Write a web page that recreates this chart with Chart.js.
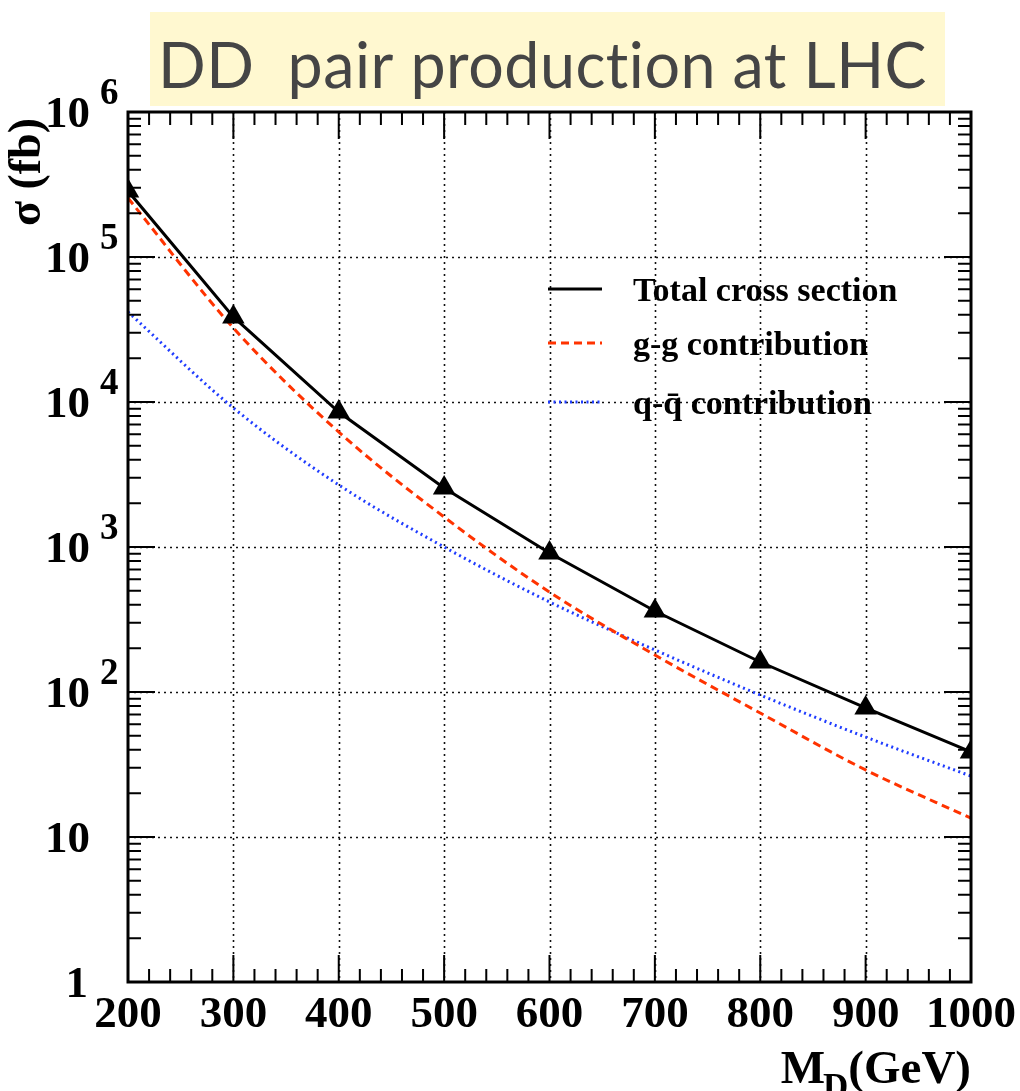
<!DOCTYPE html>
<html>
<head>
<meta charset="utf-8">
<script src="https://cdn.jsdelivr.net/npm/chart.js@4.4.1/dist/chart.umd.min.js"></script>
<style>
  html, body { margin: 0; padding: 0; background: #fff; }
  #wrap { width: 1020px; height: 1091px; }
</style>
</head>
<body>
<div id="wrap"><canvas id="xsecChart" width="1020" height="1091"></canvas></div>
<script>
// --- data (sigma in fb vs M_D in GeV) ---
const massPoints = [200, 300, 400, 500, 600, 700, 800, 900, 1000];
const sigmaTotal = [2.85e5, 3.86e4, 8.53e3, 2.55e3, 909, 362, 161, 77.6, 38.6];
const sigmaGG = [2.55e5, 3.24e4, 6.21e3, 1.61e3, 489, 180, 71.6, 29.0, 13.5];
const sigmaQQ = [4.18e4, 9.1e3, 2.68e3, 1.0e3, 418, 195, 95.3, 48.9, 26.3];

const xTickValues = [200, 300, 400, 500, 600, 700, 800, 900, 1000];
const xTickLabels = ['200', '300', '400', '500', '600', '700', '800', '900', '1000'];
const yTickExponents = [0, 1, 2, 3, 4, 5, 6];

const titleText = 'DD  pair production at LHC';
const serif = '"Liberation Serif", "Times New Roman", serif';

function toPoints(ys) {
    return massPoints.map((m, i) => ({ x: m, y: ys[i] }));
}

// ROOT-like frame, ticks, labels and legend drawn on top of Chart.js scales
const rootFrame = {
    id: 'rootFrame',
    beforeDraw(chart) {
        const ctx = chart.ctx;
        ctx.save();
        ctx.fillStyle = '#fff';
        ctx.fillRect(0, 0, chart.width, chart.height);

        // title banner
        ctx.fillStyle = '#fff8d0';
        ctx.fillRect(150, 12, 795, 94);
        ctx.fillStyle = '#454545';
        ctx.font = '64px Lato';
        ctx.letterSpacing = '0.5px'; // keeps "ti" from ligating
        ctx.textBaseline = 'alphabetic';
        const w = ctx.measureText(titleText).width;
        ctx.translate(158, 88);
        ctx.scale(769 / w, 1);
        ctx.fillText(titleText, 0, 0);
        ctx.restore();
    },
    beforeDatasetsDraw(chart) {
        const { ctx, chartArea: a, scales: { x, y } } = chart;
        ctx.save();
        ctx.strokeStyle = '#111';
        ctx.lineWidth = 1.6;
        ctx.setLineDash([2, 4]);
        ctx.beginPath();
        xTickValues.slice(1, -1).forEach(v => {
            const px = Math.round(x.getPixelForValue(v)) + 0.5;
            ctx.moveTo(px, a.top);
            ctx.lineTo(px, a.bottom);
        });
        yTickExponents.slice(1, -1).forEach(e => {
            const py = Math.round(y.getPixelForValue(Math.pow(10, e))) + 0.5;
            ctx.moveTo(a.left, py);
            ctx.lineTo(a.right, py);
        });
        ctx.stroke();
        ctx.restore();
    },
    afterDatasetsDraw(chart) {
        const { ctx, chartArea: a, scales: { x, y } } = chart;
        ctx.save();

        // ticks on all four sides
        ctx.strokeStyle = '#000';
        ctx.lineWidth = 2;
        ctx.beginPath();
        for (let v = 200; v <= 1000; v += 20) {
            const len = v % 100 === 0 ? 27 : 13;
            const px = x.getPixelForValue(v);
            ctx.moveTo(px, a.bottom);
            ctx.lineTo(px, a.bottom - len);
            ctx.moveTo(px, a.top);
            ctx.lineTo(px, a.top + len);
        }
        for (let e = 0; e <= 5; e++) {
            for (let m = 1; m <= 9; m++) {
                const len = m === 1 ? 27 : 13;
                const py = y.getPixelForValue(m * Math.pow(10, e));
                ctx.moveTo(a.left, py);
                ctx.lineTo(a.left + len, py);
                ctx.moveTo(a.right, py);
                ctx.lineTo(a.right - len, py);
            }
        }
        ctx.stroke();

        // frame
        ctx.lineWidth = 3;
        ctx.strokeRect(a.left, a.top, a.right - a.left, a.bottom - a.top);

        // x tick labels
        ctx.fillStyle = '#000';
        ctx.font = 'bold 45px ' + serif;
        ctx.textAlign = 'center';
        ctx.textBaseline = 'alphabetic';
        xTickValues.forEach((v, i) => {
            ctx.fillText(xTickLabels[i], x.getPixelForValue(v), 1027);
        });

        // y tick labels: 1, 10, 10^n
        yTickExponents.forEach(e => {
            const py = y.getPixelForValue(Math.pow(10, e));
            ctx.font = 'bold 45px ' + serif;
            ctx.textAlign = 'right';
            if (e === 0) {
                ctx.fillText('1', 88, py + 15);
            } else {
                ctx.fillText('10', 90, py + 15);
                if (e > 1) {
                    ctx.font = 'bold 37px ' + serif;
                    ctx.textAlign = 'left';
                    ctx.fillText(String(e), 100, py - 8);
                }
            }
        });

        // x axis title M_D(GeV), right aligned
        ctx.textAlign = 'left';
        ctx.font = 'bold 47px ' + serif;
        const wM = ctx.measureText('M').width;
        const wG = ctx.measureText('(GeV)').width;
        ctx.font = 'bold 35px ' + serif;
        const wD = ctx.measureText('D').width;
        let xs = 971 - wG - wD - wM + 2;
        ctx.font = 'bold 47px ' + serif;
        ctx.fillText('M', xs, 1083);
        ctx.font = 'bold 35px ' + serif;
        ctx.fillText('D', xs + wM - 2, 1098);
        ctx.font = 'bold 47px ' + serif;
        ctx.fillText('(GeV)', xs + wM + wD - 2, 1083);

        // y axis title
        ctx.save();
        ctx.translate(28, 118);
        ctx.rotate(-Math.PI / 2);
        ctx.font = 'bold 46px ' + serif;
        ctx.textAlign = 'right';
        ctx.textBaseline = 'middle';
        ctx.fillText('\u03c3 (fb)', 0, 0);
        ctx.restore();

        // legend
        const rows = [289, 343, 402];
        chart.data.datasets.forEach((ds, i) => {
            const ry = rows[i];
            ctx.strokeStyle = ds.borderColor;
            ctx.lineWidth = ds.borderWidth;
            ctx.setLineDash(ds.borderDash || []);
            ctx.beginPath();
            ctx.moveTo(548, ry);
            ctx.lineTo(602, ry);
            ctx.stroke();
            ctx.setLineDash([]);
            ctx.fillStyle = '#000';
            ctx.font = 'bold 34px ' + serif;
            ctx.textAlign = 'left';
            ctx.fillText(ds.label, 633, ry + 12);
        });

        ctx.restore();
    }
};

const chart = new Chart(document.getElementById('xsecChart'), {
    type: 'line',
    data: {
        datasets: [{
            label: 'Total cross section',
            data: toPoints(sigmaTotal),
            borderColor: '#000',
            backgroundColor: '#000',
            borderWidth: 3,
            tension: 0,
            pointStyle: 'triangle',
            pointRadius: 13,
            pointBackgroundColor: '#000',
            pointBorderColor: '#000',
            pointBorderWidth: 0,
            clip: 0
        }, {
            label: 'g-g contribution',
            data: toPoints(sigmaGG),
            borderColor: '#ff3300',
            borderWidth: 3,
            borderDash: [8, 5],
            cubicInterpolationMode: 'monotone',
            pointRadius: 0,
            clip: 0
        }, {
            label: 'q-q\u0304 contribution',
            data: toPoints(sigmaQQ),
            borderColor: '#1f3cff',
            borderWidth: 3,
            borderDash: [2, 3.5],
            cubicInterpolationMode: 'monotone',
            pointRadius: 0,
            clip: 0
        }]
    },
    options: {
        responsive: false,
        animation: false,
        devicePixelRatio: 1,
        layout: { padding: { left: 128, top: 112, right: 49, bottom: 109 } },
        scales: {
            x: { type: 'linear', min: 200, max: 1000, display: false },
            y: { type: 'logarithmic', min: 1, max: 1e6, display: false }
        },
        plugins: {
            legend: { display: false },
            tooltip: { enabled: false }
        }
    },
    plugins: [rootFrame]
});
</script>
</body>
</html>
